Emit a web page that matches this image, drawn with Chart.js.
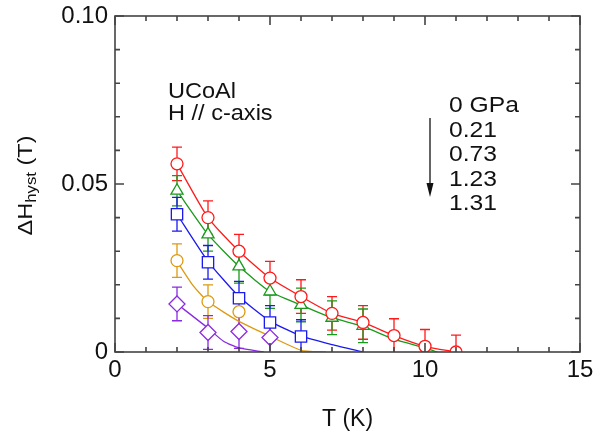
<!DOCTYPE html>
<html>
<head>
<meta charset="utf-8">
<script src="https://cdn.jsdelivr.net/npm/chart.js@4.4.1/dist/chart.umd.min.js"></script>
<style>
  html, body { margin: 0; padding: 0; background: #fff; }
  #wrap { width: 600px; height: 433px; }
</style>
</head>
<body>
<div id="wrap"><canvas id="myChart" width="600" height="433"></canvas></div>
<script>
// measured points (T in K, dH in T)
var temps = [2, 3, 4, 5, 6, 7, 8, 9, 10, 11];
var p0    = [0.056, 0.040, 0.030, 0.022, 0.0165, 0.0115, 0.0088, 0.0049, 0.0017, 0];
var p021  = [0.048, 0.035, 0.0255, 0.018, 0.014, 0.0102, 0.0078];
var p073  = [0.041, 0.0267, 0.016, 0.0088, 0.0046];
var p123  = [0.0272, 0.015, 0.012];
var p131  = [0.0143, 0.0058, 0.0061, 0.0043];

// error bars (+/-)
var e0   = [0.005, 0.005, 0.005, 0.005, 0.005, 0.005, 0.005, 0.005, 0.005, 0.005];
var e021 = [0.0045, 0.005, 0.005, 0.005, 0.005, 0.005, 0.005];
var e073 = [0.005, 0.005, 0.005, 0.005, 0.005];
var e123 = [0.005, 0.005, 0.005];
var e131 = [0.005, 0.005, 0.005, 0.005];

// guide lines
var fit0T   = [2, 3, 4, 5, 6, 7, 8, 9, 10, 11];
var fit0    = [0.056, 0.040, 0.030, 0.022, 0.0165, 0.0115, 0.0088, 0.0049, 0.0017, 0];
var fit021T = [2, 3, 4, 5, 6, 7, 8, 9, 10, 10.4];
var fit021  = [0.048, 0.035, 0.0255, 0.018, 0.014, 0.0102, 0.0076, 0.0038, 0.0012, 0];
var fit073T = [2, 3, 4, 5, 6, 7, 8];
var fit073  = [0.041, 0.027, 0.0165, 0.0092, 0.0048, 0.0022, 0];
var fit123T = [2, 2.5, 3, 4, 5, 6, 6.8];
var fit123  = [0.027, 0.020, 0.015, 0.0091, 0.0047, 0.0005, 0];
var fit131T = [2, 3, 3.5, 4, 4.8];
var fit131  = [0.0143, 0.0071, 0.0032, 0.0012, 0];

var pressures = ["0 GPa", "0.21", "0.73", "1.23", "1.31"];
var colors = ["#ff1a1a", "#1a9a1a", "#1a1aee", "#dd9a10", "#8a2be2"];

var FONT = "'Liberation Sans', Arial, sans-serif";

function pts(xs, ys) {
    var out = [];
    for (var i = 0; i < ys.length; i++) out.push({x: xs[i], y: ys[i]});
    return out;
}

var marks = [
    {y: p0,   e: e0,   shape: "circle",   r: 6},
    {y: p021, e: e021, shape: "triangle", r: 7},
    {y: p073, e: e073, shape: "rect",     r: 8},
    {y: p123, e: e123, shape: "circle",   r: 6},
    {y: p131, e: e131, shape: "rectRot",  r: 8}
];
var fits = [[fit0T, fit0], [fit021T, fit021], [fit073T, fit073], [fit123T, fit123], [fit131T, fit131]];

var datasets = [];
for (var k = 0; k < 5; k++) {
    datasets.push({
        label: pressures[k] + " fit",
        data: pts(fits[k][0], fits[k][1]),
        borderColor: colors[k],
        borderWidth: 1.3,
        pointRadius: 0,
        showLine: true,
        tension: 0.2,
        order: 10
    });
}
for (var k = 0; k < 5; k++) {
    datasets.push({
        label: pressures[k],
        data: pts(temps, marks[k].y),
        errs: marks[k].e,
        borderColor: colors[k],
        backgroundColor: "#fff",
        pointStyle: marks[k].shape,
        pointRadius: marks[k].r,
        pointBorderWidth: 1.3,
        showLine: false,
        order: 1
    });
}

// text a little wider than plain Arial, like the original
function wideText(c, s, x, y, size, sx) {
    c.save();
    c.font = size + "px " + FONT;
    c.translate(x, y);
    c.scale(sx, 1);
    c.fillText(s, 0, 0);
    var w = c.measureText(s).width * sx;
    c.restore();
    return w;
}

// error bars, frame, ticks and the text notes
var extras = {
    id: "extras",
    beforeDatasetsDraw: function (chart) {
        var c = chart.ctx, xs = chart.scales.x, ys = chart.scales.y;
        c.save();
        c.lineWidth = 1.3;
        chart.data.datasets.forEach(function (ds) {
            if (!ds.errs) return;
            c.strokeStyle = ds.borderColor;
            ds.data.forEach(function (p, i) {
                var x = xs.getPixelForValue(p.x);
                var lo = Math.max(0, p.y - ds.errs[i]);
                var y1 = ys.getPixelForValue(p.y + ds.errs[i]);
                var y2 = ys.getPixelForValue(lo);
                c.beginPath();
                c.moveTo(x, y1); c.lineTo(x, y2);
                c.moveTo(x - 5, y1); c.lineTo(x + 5, y1);
                if (p.y - ds.errs[i] > 0) { c.moveTo(x - 5, y2); c.lineTo(x + 5, y2); }
                c.stroke();
            });
        });
        c.restore();
    },
    afterDraw: function (chart) {
        var c = chart.ctx, a = chart.chartArea, xs = chart.scales.x, ys = chart.scales.y;
        c.save();
        c.strokeStyle = "#444";
        c.lineWidth = 1.6;
        c.strokeRect(a.left, a.top, a.right - a.left, a.bottom - a.top);
        c.beginPath();
        for (var t = 0; t <= 15; t++) {
            var x = xs.getPixelForValue(t), len = (t % 5 === 0) ? 9 : 5;
            c.moveTo(x, a.bottom); c.lineTo(x, a.bottom - len);
            c.moveTo(x, a.top); c.lineTo(x, a.top + len);
        }
        for (var j = 0; j <= 10; j++) {
            var y = ys.getPixelForValue(j * 0.01), ln = (j % 5 === 0) ? 9 : 5;
            c.moveTo(a.left, y); c.lineTo(a.left + ln, y);
            c.moveTo(a.right, y); c.lineTo(a.right - ln, y);
        }
        c.stroke();

        c.fillStyle = "#111";
        c.textBaseline = "alphabetic";
        c.textAlign = "left";
        wideText(c, "UCoAl", 168, 98, 22, 1.07);
        wideText(c, "H // c-axis", 168, 120, 22, 1.07);
        for (var n = 0; n < pressures.length; n++) {
            wideText(c, pressures[n], 449, 112 + n * 24.5, 22, 1.12);
        }
        // arrow
        c.strokeStyle = "#111";
        c.lineWidth = 1.3;
        c.beginPath();
        c.moveTo(430, 118); c.lineTo(430, 186);
        c.stroke();
        c.beginPath();
        c.moveTo(426.5, 183); c.lineTo(433.5, 183); c.lineTo(430, 197); c.closePath();
        c.fill();

        // y title with subscript
        c.translate(32, 185.5);
        c.rotate(-Math.PI / 2);
        var sx = 1.12;
        c.font = "21px " + FONT;
        var w1 = c.measureText("\u0394H").width * sx, w3 = c.measureText(" (T)").width * sx;
        c.font = "15px " + FONT;
        var w2 = c.measureText("hyst").width * sx;
        var x0 = -(w1 + w2 + w3) / 2;
        wideText(c, "\u0394H", x0, 0, 21, sx);
        wideText(c, "hyst", x0 + w1, 4, 15, sx);
        wideText(c, " (T)", x0 + w1 + w2, 0, 21, sx);
        c.restore();
    }
};

var ctx = document.getElementById("myChart");
var myChart = new Chart(ctx, {
    type: "scatter",
    data: {datasets: datasets},
    options: {
        responsive: false,
        animation: false,
        layout: {padding: {left: 0, right: 20, top: 16, bottom: 0}},
        plugins: {legend: {display: false}, tooltip: {enabled: false}},
        scales: {
            x: {
                type: "linear", min: 0, max: 15,
                grid: {display: false, drawTicks: false},
                border: {display: false},
                ticks: {stepSize: 5, color: "#111", padding: 4,
                        font: {size: 24, family: FONT}},
                title: {display: true, text: "T (K)", color: "#111", padding: {top: 14, bottom: 0},
                        font: {size: 23, family: FONT}},
                afterFit: function (s) { s.height = 81; s.paddingLeft = 0; s.paddingRight = 0; }
            },
            y: {
                type: "linear", min: 0, max: 0.1,
                grid: {display: false, drawTicks: false},
                border: {display: false},
                ticks: {stepSize: 0.05, color: "#111", padding: 7,
                        font: {size: 24, family: FONT},
                        callback: function (v) { return v === 0 ? "0" : v.toFixed(2); }},
                afterFit: function (s) { s.width = 115; s.paddingTop = 0; s.paddingBottom = 0; }
            }
        }
    },
    plugins: [extras]
});
</script>
</body>
</html>
